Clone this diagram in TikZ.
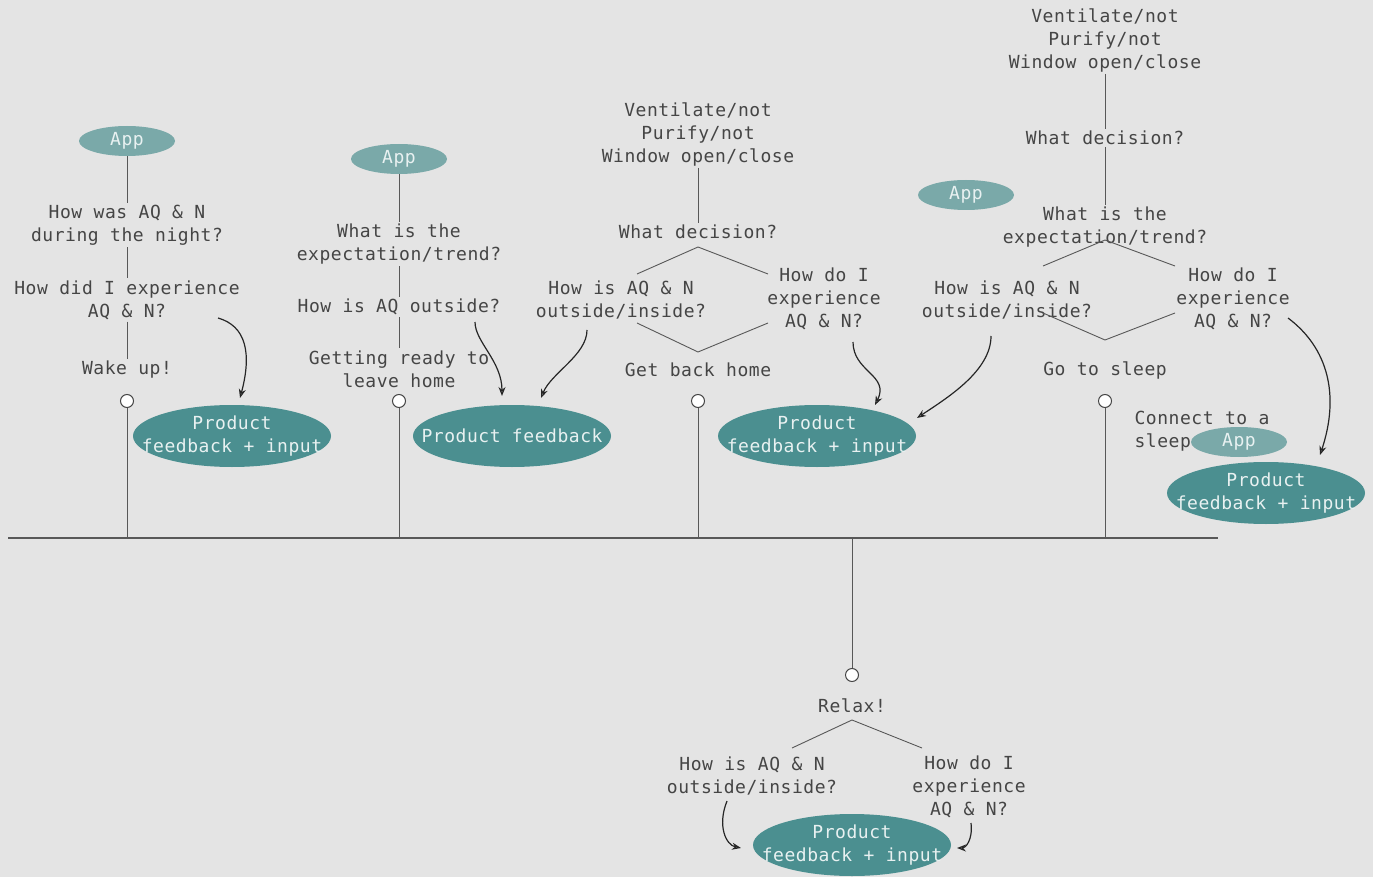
\documentclass[tikz,border=0pt]{standalone}
\usepackage{fontspec}
\newfontfamily\qfont{DejaVu Sans Mono}[LetterSpace=3]
\usetikzlibrary{positioning, shapes.geometric, arrows.meta}

\definecolor{paper}{HTML}{E4E4E4}
\definecolor{ink}{HTML}{454545}
\definecolor{tealdark}{HTML}{4B8F90}
\definecolor{teallight}{HTML}{7AA9A9}
\definecolor{tealtext}{HTML}{E8F1F1}

\tikzset{
  ask/.style={font=\qfont\fontsize{18}{23}\selectfont, text=ink, align=center, inner sep=2pt},
  appbubble/.style={ask, ellipse, fill=teallight, text=tealtext, minimum width=96pt, minimum height=30pt, inner sep=0pt},
  fbbubble/.style={ask, ellipse, fill=tealdark, text=tealtext, minimum width=198pt, minimum height=62pt, inner xsep=-21pt, inner ysep=0pt},
  station/.style={circle, draw=ink, fill=white, line width=1pt, minimum size=13pt, inner sep=0pt},
  link/.style={draw=ink!90, line width=0.9pt},
  hint/.style={->, draw=black!85, line width=1.2pt},
}

\begin{document}
\begin{tikzpicture}[x=1pt, y=-1pt, on grid, >={Stealth[open, length=9pt, width=7pt]}]
  \useasboundingbox (0,0) rectangle (1373,877);
  \fill[paper] (0,0) rectangle (1373,877);

  % stations on the day line
  \node[station] (c1) at (127,401) {};
  \node[station] (c2) at (399,401) {};
  \node[station] (c3) at (698,401) {};
  \node[station] (c4) at (1105,401) {};
  \node[station] (c5) at (852,675) {};

  \coordinate[below=137pt of c1] (t1);
  \coordinate[below=137pt of c2] (t2);
  \coordinate[below=137pt of c3] (t3);
  \coordinate[below=137pt of c4] (t4);
  \coordinate[above=137pt of c5] (t5);
  \coordinate (tl0) at (8,538);
  \coordinate (tl9) at (1218,538);

  % morning
  \node[ask, above=31pt of c1] (wake1) {Wake up!};
  \node[ask, above=70pt of wake1] (q1b) {How did I experience\\AQ \& N?};
  \node[ask, above=75pt of q1b] (q1a) {How was AQ \& N\\during the night?};
  \node[appbubble, above=84pt of q1a] (app1) {App};
  \node[fbbubble, below right=35pt and 105pt of c1] (fb1) {Product\\feedback + input};

  % leaving
  \node[ask, above=32pt of c2] (leave2) {Getting ready to\\leave home};
  \node[ask, above=62pt of leave2] (q2c) {How is AQ outside?};
  \node[ask, above=63pt of q2c] (q2b) {What is the\\expectation/trend?};
  \node[appbubble, above=85pt of q2b] (app2) {App};
  \node[fbbubble, below right=35pt and 113pt of c2] (fb2) {Product feedback};

  % coming back
  \node[ask, above=31pt of c3] (home3) {Get back home};
  \node[ask, above=138pt of home3] (dec3) {What decision?};
  \node[ask, above=98pt of dec3] (opts3) {Ventilate/not\\Purify/not\\Window open/close};
  \node[ask, above left=70pt and 77pt of home3] (q3a) {How is AQ \& N\\outside/inside?};
  \node[ask, above right=71pt and 126pt of home3] (q3b) {How do I\\experience\\AQ \& N?};
  \node[fbbubble, below right=35pt and 119pt of c3] (fb3) {Product\\feedback + input};

  % night
  \node[ask, above=31pt of c4] (sleep4) {Go to sleep};
  \node[ask, above=143pt of sleep4] (q4exp) {What is the\\expectation/trend?};
  \node[ask, above=89pt of q4exp] (dec4) {What decision?};
  \node[ask, above=98pt of dec4] (opts4) {Ventilate/not\\Purify/not\\Window open/close};
  \node[appbubble, above left=32pt and 139pt of q4exp] (app4) {App};
  \node[ask, above left=70pt and 98pt of sleep4] (q4a) {How is AQ \& N\\outside/inside?};
  \node[ask, above right=71pt and 128pt of sleep4] (q4b) {How do I\\experience\\AQ \& N?};
  \node[ask, align=left, below right=30pt and 97pt of c4] (conn4) {Connect to a\\sleep};
  \node[appbubble, below right=41pt and 134pt of c4] (app5) {App};
  \node[fbbubble, below right=92pt and 161pt of c4] (fb4) {Product\\feedback + input};

  % evening
  \node[ask, below=31pt of c5] (relax5) {Relax!};
  \node[ask, below left=70pt and 100pt of relax5] (q5a) {How is AQ \& N\\outside/inside?};
  \node[ask, below right=81pt and 117pt of relax5] (q5b) {How do I\\experience\\AQ \& N?};
  \node[fbbubble, below=139pt of relax5] (fb5) {Product\\feedback + input};

  % day line and stems
  \draw[link, line width=1.3pt] (tl0) -- (tl9);
  \foreach \i in {1,...,5}
    \draw[link] (c\i) -- (t\i);

  \draw[link] (app1) -- (q1a);
  \draw[link] (q1a) -- (q1b);
  \draw[link] (q1b) -- (wake1);
  \draw[link] (app2) -- (q2b);
  \draw[link] (q2b) -- (q2c);
  \draw[link] (q2c) -- (leave2);
  \draw[link] (opts3) -- (dec3);
  \draw[link] (opts4) -- (dec4);
  \draw[link] (dec4) -- (q4exp);

  % diamonds
  \coordinate[below=15pt of dec3] (d3n);
  \coordinate[above=18pt of home3] (d3s);
  \coordinate[below left=27pt and 61pt of d3n] (d3wa);
  \coordinate[below right=27pt and 70pt of d3n] (d3ea);
  \coordinate[above left=29pt and 61pt of d3s] (d3wb);
  \coordinate[above right=29pt and 70pt of d3s] (d3eb);
  \draw[link] (d3wa) -- (d3n) -- (d3ea);
  \draw[link] (d3wb) -- (d3s) -- (d3eb);

  \coordinate[below=13pt of q4exp] (d4n);
  \coordinate[above=30pt of sleep4] (d4s);
  \coordinate[below left=26pt and 62pt of d4n] (d4wa);
  \coordinate[below right=26pt and 70pt of d4n] (d4ea);
  \coordinate[above left=27pt and 62pt of d4s] (d4wb);
  \coordinate[above right=27pt and 70pt of d4s] (d4eb);
  \draw[link] (d4wa) -- (d4n) -- (d4ea);
  \draw[link] (d4wb) -- (d4s) -- (d4eb);

  \coordinate[below=14pt of relax5] (d5n);
  \coordinate[below left=28pt and 60pt of d5n] (d5w);
  \coordinate[below right=28pt and 70pt of d5n] (d5e);
  \draw[link] (d5w) -- (d5n) -- (d5e);

  % feedback hints
  \draw[hint] ([shift={(91pt,-18pt)}]q1b.center) .. controls +(28,8) and +(12,-45) .. ([shift={(8pt,38pt)}]fb1.center);
  \draw[hint] ([shift={(76pt,-15pt)}]q2c.center) .. controls +(0,20) and +(0,-35) .. ([shift={(-10pt,40pt)}]fb2.center);
  \draw[hint] ([shift={(-34pt,-30pt)}]q3a.center) .. controls +(0,25) and +(10,-25) .. ([shift={(29pt,38pt)}]fb2.center);
  \draw[hint] ([shift={(29pt,-43pt)}]q3b.center) .. controls +(0,30) and +(15,-30) .. ([shift={(58pt,31pt)}]fb3.center);
  \draw[hint] ([shift={(-16pt,-36pt)}]q4a.center) .. controls +(0,35) and +(30,-20) .. ([shift={(100pt,18pt)}]fb3.center);
  \draw[hint] ([shift={(55pt,-19pt)}]q4b.center) .. controls +(40,30) and +(20,-60) .. ([shift={(54pt,38pt)}]fb4.center);
  \draw[hint] ([shift={(-25pt,-25pt)}]q5a.center) .. controls +(-10,25) and +(-15,-3) .. ([shift={(-111pt,-3pt)}]fb5.center);
  \draw[hint] ([shift={(2pt,-36pt)}]q5b.center) .. controls +(2,18) and +(8,0) .. ([shift={(105pt,-3pt)}]fb5.center);
\end{tikzpicture}
\end{document}
